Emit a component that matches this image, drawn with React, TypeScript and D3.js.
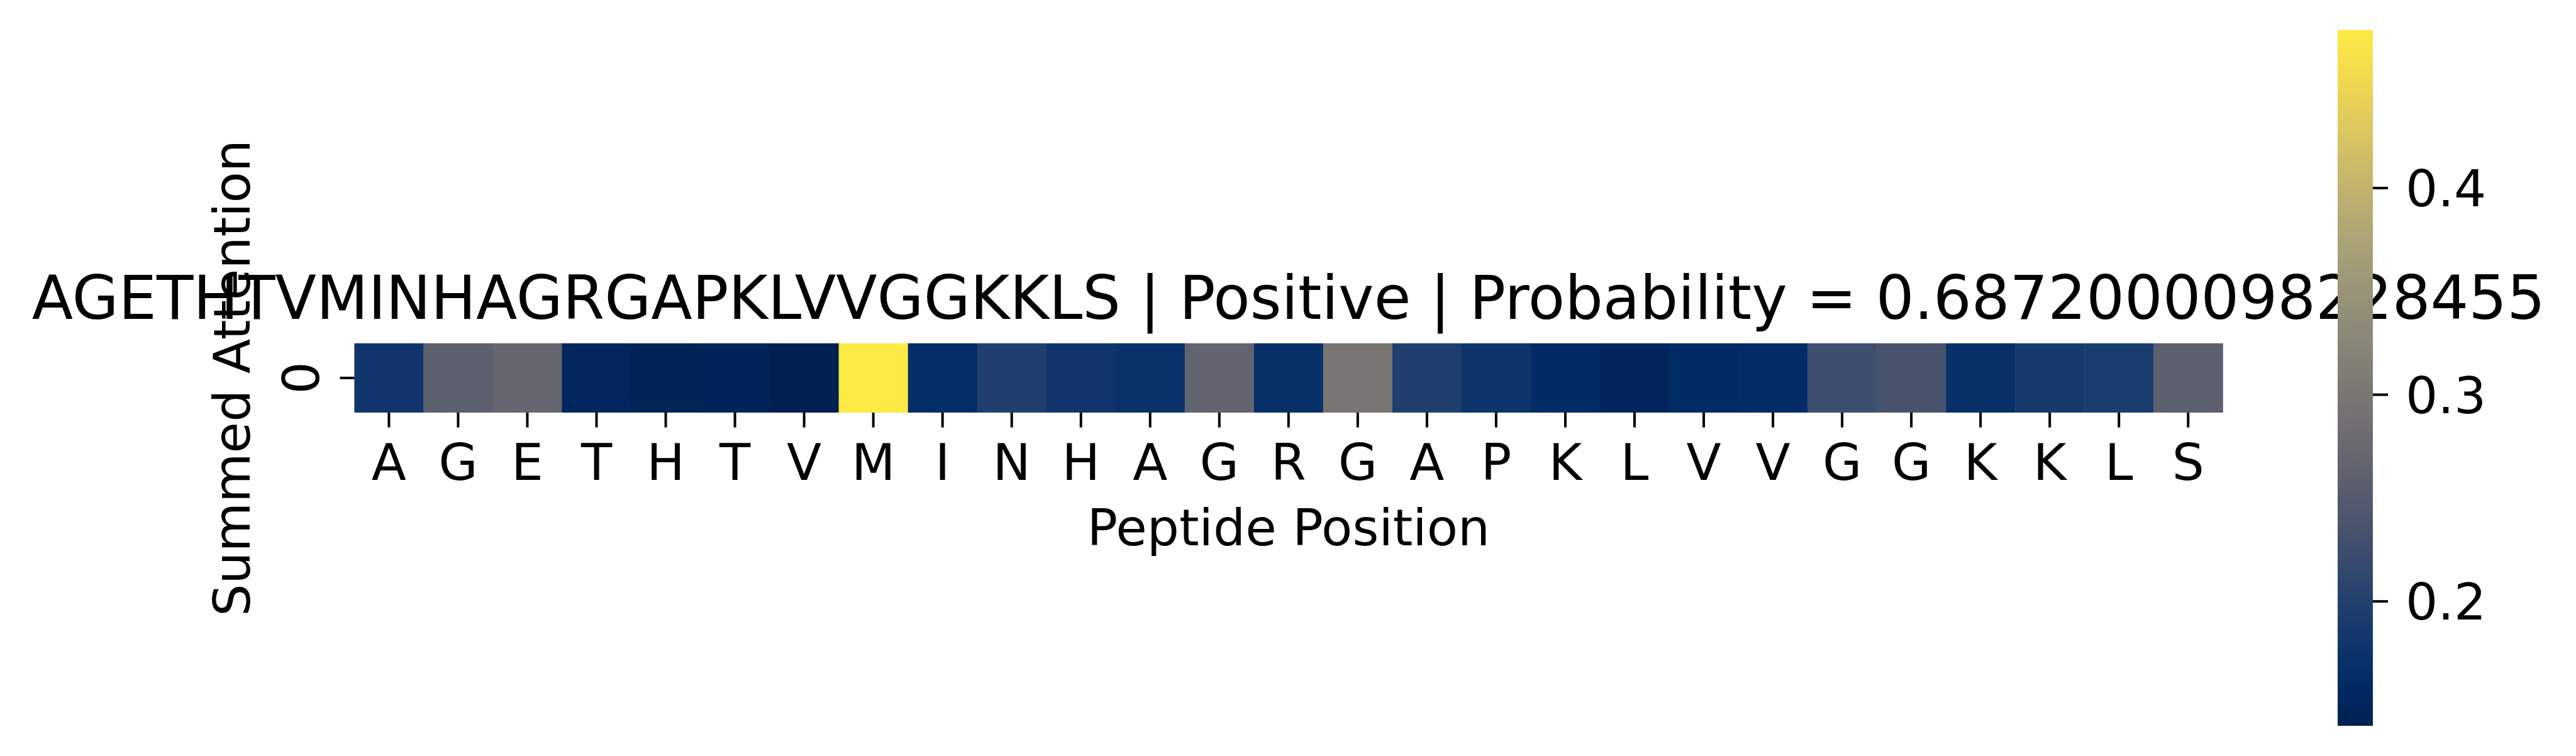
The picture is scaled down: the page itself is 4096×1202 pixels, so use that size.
import React from 'react'
import * as d3 from 'd3'

// peptide residues along the x axis
const residues = ['A', 'G', 'E', 'T', 'H', 'T', 'V', 'M', 'I', 'N', 'H', 'A', 'G', 'R', 'G', 'A', 'P', 'K', 'L', 'V', 'V', 'G', 'G', 'K', 'K', 'L', 'S']
// summed attention per position (single row "0")
const attention = [0.180, 0.259, 0.270, 0.151, 0.144, 0.147, 0.1398, 0.4765, 0.1646, 0.197, 0.180, 0.172, 0.266, 0.170, 0.296, 0.1955, 0.177, 0.160, 0.149, 0.1585, 0.162, 0.226, 0.235, 0.170, 0.1854, 0.192, 0.2595]
const rowLabels = ['0']
const cbarTicks = [0.2, 0.3, 0.4]
const title = 'AGETHTVMINHAGRGAPKLVVGGKKLS | Positive | Probability = 0.6872000098228455'

const W = 4096
const H = 1202
const font = 'DejaVu Sans'

export default function App() {
  const left = 563.4, right = 3534.3, top = 545.8, bottom = 656
  const tickFs = 80.6
  const titleFs = 95.6

  const x = d3.scaleBand<number>().domain(d3.range(residues.length)).range([left, right])
  const y = d3.scaleBand<string>().domain(rowLabels).range([top, bottom])
  const ext = d3.extent(attention) as [number, number]
  const color = d3.scaleSequential(d3.interpolateCividis).domain(ext)

  // colorbar
  const cbX0 = 3717, cbX1 = 3773, cbTop = 47.6, cbBot = 1154
  const cbScale = d3.scaleLinear().domain(ext).range([cbBot, cbTop])
  const stops = d3.range(0, 1.0001, 0.02)

  const cx = (left + right) / 2
  const cy = (top + bottom) / 2

  return (
    <svg width={W} height={H} style={{ position: 'absolute', left: 0, top: 0, display: 'block', background: '#fff' }}
      fontFamily={font}>
      <defs>
        <linearGradient id='cbar' x1='0' y1='1' x2='0' y2='0'>
          {stops.map((s, i) => (
            <stop key={i} offset={s} stopColor={d3.interpolateCividis(s)} />
          ))}
        </linearGradient>
      </defs>

      {/* heatmap cells */}
      {attention.map((v, i) => (
        <rect key={i} x={x(i)} y={y('0')} width={x.bandwidth() + 0.5} height={y.bandwidth()}
          fill={color(v)} />
      ))}

      {/* x ticks */}
      {residues.map((r, i) => {
        const px = (x(i) as number) + x.bandwidth() / 2
        return (
          <g key={i}>
            <line x1={px} x2={px} y1={bottom} y2={bottom + 23.6} stroke='#000' strokeWidth={4} />
            <text x={px} y={763} fontSize={tickFs} textAnchor='middle'>{r}</text>
          </g>
        )
      })}

      {/* y tick */}
      {rowLabels.map(r => {
        const py = (y(r) as number) + y.bandwidth() / 2
        return (
          <g key={r}>
            <line x1={left - 22.8} x2={left} y1={py} y2={py} stroke='#000' strokeWidth={4} />
            <text transform={`translate(507,${py}) rotate(-90)`} fontSize={tickFs} textAnchor='middle'>{r}</text>
          </g>
        )
      })}

      {/* axis labels and title */}
      <text x={cx} y={867.4} fontSize={tickFs} textAnchor='middle'>Peptide Position</text>
      <text transform={`translate(396.6,${cy}) rotate(-90)`} fontSize={tickFs} textAnchor='middle'>Summed Attention</text>
      <text x={cx} y={506.7} fontSize={titleFs} textAnchor='middle'>{title}</text>

      {/* colorbar */}
      <rect x={cbX0} y={cbTop} width={cbX1 - cbX0} height={cbBot - cbTop} fill='url(#cbar)' />
      {cbarTicks.map(t => (
        <g key={t}>
          <line x1={cbX1} x2={cbX1 + 24} y1={cbScale(t)} y2={cbScale(t)} stroke='#000' strokeWidth={4} />
          <text x={3825} y={cbScale(t)} dy='0.36em' fontSize={tickFs}>{d3.format('.1f')(t)}</text>
        </g>
      ))}
    </svg>
  )
}
